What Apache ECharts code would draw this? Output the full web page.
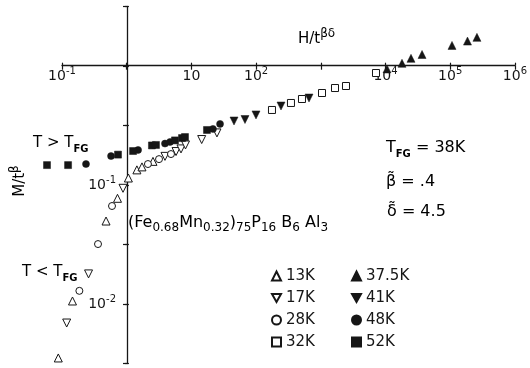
<!DOCTYPE html>
<html>
<head>
<meta charset="utf-8">
<script src="https://cdn.jsdelivr.net/npm/echarts@6/dist/echarts.min.js"></script>
<style>
html,body{margin:0;padding:0;background:#fff;}
#c{width:530px;height:368px;}
</style>
</head>
<body>
<div id="c"></div>
<script>
// ---- data (H/t^βδ , M/t^β) ----
const temps = ['13K', '17K', '28K', '32K', '37.5K', '41K', '48K', '52K'];
const H_13K = [0.0877, 0.145, 0.476, 0.714, 1.05, 1.42, 1.70, 2.51];
const M_13K = [0.00352, 0.0106, 0.0498, 0.0773, 0.1145, 0.134, 0.142, 0.158];
const H_17K = [0.118, 0.256, 0.868, 3.84, 5.68, 6.77, 7.94, 14.1, 24.2];
const M_17K = [0.00692, 0.0179, 0.0938, 0.174, 0.191, 0.201, 0.217, 0.241, 0.274];
const H_28K = [0.185, 0.358, 0.588, 2.10, 3.11, 4.75];
const M_28K = [0.0129, 0.0319, 0.0666, 0.150, 0.165, 0.182];
const H_32K = [170, 333, 492, 1000, 1585, 2340, 6770];
const M_32K = [0.427, 0.489, 0.528, 0.593, 0.653, 0.679, 0.873];
const H_375K = [10000, 17000, 23400, 34600, 100000, 173000, 242000];
const M_375K = [0.944, 1.054, 1.16, 1.25, 1.49, 1.62, 1.74];
const H_41K = [44.3, 65.3, 96.5, 234, 631];
const M_41K = [0.345, 0.355, 0.388, 0.461, 0.538];
const H_48K = [0.234, 0.568, 1.48, 3.84, 4.59, 21.0, 27.0];
const M_48K = [0.150, 0.175, 0.197, 0.223, 0.230, 0.296, 0.326];
const H_52K = [0.0588, 0.124, 0.727, 1.24, 2.42, 2.79, 5.47, 7.02, 7.80, 17.0];
const M_52K = [0.147, 0.147, 0.180, 0.193, 0.215, 0.217, 0.237, 0.248, 0.253, 0.290];

// tick labels (exponent -> label)
const xTickExps = [-1, 0, 1, 2, 3, 4, 5, 6];
const xTickLabels = ['10^-1', '', '10', '10^2', '', '10^4', '10^5', '10^6'];
const yTickExps = [-2.5, -2, -1.5, -1, -0.5, 0, 0.5];
const yTickLabels = ['', '10^-2', '', '10^-1', '', '', ''];

const ink = '#161616';
const FF = 'DejaVu Sans';

function toRich(lbl) {
  if (!lbl) return '';
  const p = lbl.split('^');
  return '{a|' + p[0] + '}' + (p[1] ? '{s|' + p[1] + '}' : '');
}
function lookup(exps, labels, v) {
  for (let i = 0; i < exps.length; i++) if (Math.abs(exps[i] - v) < 1e-6) return toRich(labels[i]);
  return '';
}
const axRich = {
  a: {fontSize: 14, lineHeight: 20, fontFamily: FF, color: ink},
  s: {fontSize: 10, lineHeight: 8, verticalAlign: 'top', fontFamily: FF, color: ink}
};
const txtRich = {
  a: {fontSize: 15, lineHeight: 22, fontFamily: FF, color: ink},
  L: {fontSize: 16, lineHeight: 22, fontFamily: FF, color: ink},
  s: {fontSize: 12, lineHeight: 10, verticalAlign: 'top', fontFamily: FF, color: ink},
  b: {fontSize: 10, lineHeight: 10, verticalAlign: 'bottom', fontFamily: FF, color: ink, fontWeight: 'bold'},
  u: {fontSize: 12, lineHeight: 10, verticalAlign: 'bottom', fontFamily: FF, color: ink}
};

function sc(name, H, M, symbol, size, filled) {
  return {
    type: 'scatter', name: name, xAxisIndex: 0, yAxisIndex: 0,
    symbol: symbol, symbolSize: size,
    data: H.map((h, i) => [h, M[i]]),
    itemStyle: filled ? {color: ink, borderColor: ink, borderWidth: 0.5, opacity: 1}
                      : {color: '#fff', borderColor: ink, borderWidth: 1, opacity: 1},
    z: 5
  };
}
const TRI_DOWN = 'path://M0,0L10,0L5,9Z';

const line = {show: true, onZero: false, lineStyle: {color: ink, width: 1.3}};
const noLine = {show: false, onZero: false};

const option = {
  animation: false,
  backgroundColor: '#fff',
  grid: [
    {left: 29.5, right: 13, top: 6.5, bottom: 4.5},
    {left: 62, right: 13, top: 6.5, bottom: 4.5}
  ],
  xAxis: [
    {gridIndex: 0, type: 'log', min: Math.pow(10, -1.5), max: 1e6, show: false},
    {gridIndex: 1, type: 'value', min: -1, max: 6, interval: 1, position: 'bottom', offset: -297.8,
     axisLine: line, splitLine: {show: false},
     axisTick: {show: true, length: 4, lineStyle: {color: ink, width: 1.2}},
     axisLabel: {margin: 1, formatter: v => lookup(xTickExps, xTickLabels, v), rich: axRich}},
    {gridIndex: 1, type: 'value', min: -1, max: 6, interval: 1, position: 'top', offset: -59.2,
     axisLine: noLine, splitLine: {show: false},
     axisTick: {show: true, length: 3, lineStyle: {color: ink, width: 1.2}},
     axisLabel: {show: false}}
  ],
  yAxis: [
    {gridIndex: 0, type: 'log', min: Math.pow(10, -2.5), max: Math.pow(10, 0.5), show: false},
    {gridIndex: 1, type: 'value', min: -2.5, max: 0.5, interval: 0.5, position: 'left', offset: -65,
     axisLine: line, splitLine: {show: false},
     axisTick: {show: true, length: 4, lineStyle: {color: ink, width: 1.2}},
     axisLabel: {margin: 11, formatter: v => lookup(yTickExps, yTickLabels, v), rich: axRich}},
    {gridIndex: 1, type: 'value', min: -2.5, max: 0.5, interval: 0.5, position: 'right', offset: -390,
     axisLine: noLine, splitLine: {show: false},
     axisTick: {show: true, length: 4, lineStyle: {color: ink, width: 1.2}},
     axisLabel: {show: false}}
  ],
  legend: [
    {data: temps.slice(0, 4), orient: 'vertical', left: 271, top: 265, padding: 0,
     itemWidth: 9, itemHeight: 9, itemGap: 0, selectedMode: false,
     textStyle: {fontSize: 15, lineHeight: 22, fontFamily: FF, color: ink}},
    {data: temps.slice(4), orient: 'vertical', left: 351, top: 265, padding: 0,
     itemWidth: 9, itemHeight: 9, itemGap: 0, selectedMode: false,
     textStyle: {fontSize: 15, lineHeight: 22, fontFamily: FF, color: ink}}
  ],
  graphic: [
    {type: 'text', x: 298, y: 39, style: {text: '{a|H/t}{s|βδ}', rich: txtRich, align: 'left', verticalAlign: 'middle'}},
    {type: 'text', x: 20, y: 181, rotation: Math.PI / 2,
     style: {text: '{a|M/t}{s|β}', rich: txtRich, align: 'center', verticalAlign: 'middle'}},
    {type: 'text', x: 33, y: 143, style: {text: '{a|T > T}{b|FG}', rich: txtRich, align: 'left', verticalAlign: 'middle'}},
    {type: 'text', x: 22, y: 272, style: {text: '{a|T < T}{b|FG}', rich: txtRich, align: 'left', verticalAlign: 'middle'}},
    {type: 'text', x: 128, y: 223,
     style: {text: '{L|(Fe}{u|0.68}{L|Mn}{u|0.32}{L|)}{u|75}{L|P}{u|16}{L| B}{u|6}{L| Al}{u|3}', rich: txtRich, align: 'left', verticalAlign: 'middle'}},
    {type: 'text', x: 386, y: 148, style: {text: '{L|T}{b|FG}{L| = 38K}', rich: txtRich, align: 'left', verticalAlign: 'middle'}},
    {type: 'text', x: 386, y: 182, style: {text: '{L|β\u0303 = .4}', rich: txtRich, align: 'left', verticalAlign: 'middle'}},
    {type: 'text', x: 387, y: 212, style: {text: '{L|δ\u0303 = 4.5}', rich: txtRich, align: 'left', verticalAlign: 'middle'}}
  ],
  series: [
    sc('13K', H_13K, M_13K, 'triangle', 8, false),
    sc('17K', H_17K, M_17K, TRI_DOWN, 8, false),
    sc('28K', H_28K, M_28K, 'circle', 7, false),
    sc('32K', H_32K, M_32K, 'rect', 7, false),
    sc('37.5K', H_375K, M_375K, 'triangle', 8, true),
    sc('41K', H_41K, M_41K, TRI_DOWN, 8, true),
    sc('48K', H_48K, M_48K, 'circle', 7, true),
    sc('52K', H_52K, M_52K, 'rect', 7, true)
  ]
};
const chart = echarts.init(document.getElementById('c'), null, {renderer: 'canvas'});
chart.setOption(option);
</script>
</body>
</html>
